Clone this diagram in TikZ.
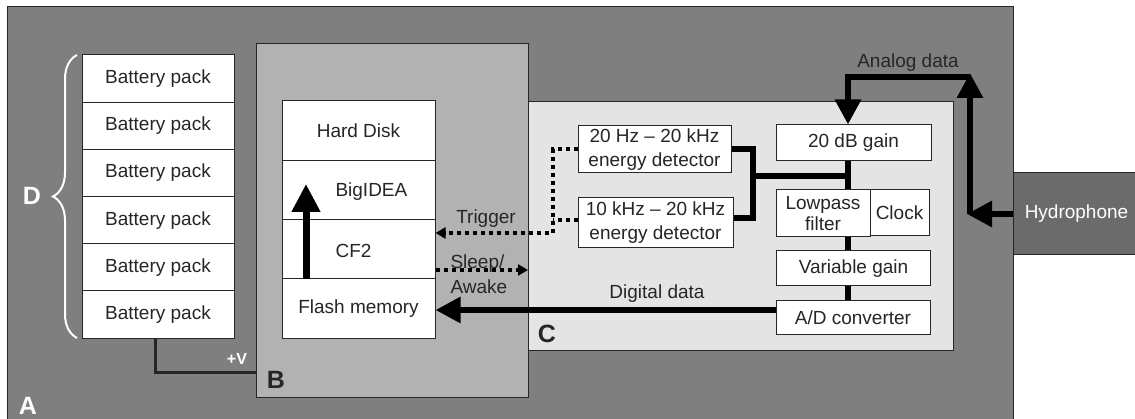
\documentclass[tikz,border=0pt]{standalone}
\usepackage{fontspec}
\setmainfont{Liberation Sans}
\usetikzlibrary{arrows.meta,decorations.pathreplacing}

\definecolor{shellA}{HTML}{7F7F7F}
\definecolor{shellB}{HTML}{B2B2B2}
\definecolor{shellC}{HTML}{E4E4E4}
\definecolor{phonegray}{HTML}{6B6B6B}
\definecolor{ink}{HTML}{262626}

\tikzset{
  unit/.style={draw=ink, fill=white, line width=1pt, inner sep=0pt, text=ink,
    font=\fontsize{19}{24}\selectfont, align=center},
  shell/.style={draw=ink, line width=1pt, inner sep=0pt, anchor=north west},
  tag/.style={font=\fontsize{25}{25}\selectfont\bfseries},
  note/.style={text=ink, font=\fontsize{19}{25}\selectfont, align=center},
  flow/.style={line width=6pt, draw=black},
  bigtip/.style={-{Triangle[length=25pt,width=25pt]}},
  ctrl/.style={line width=4pt, dash pattern=on 4pt off 4pt,
    -{Triangle[length=10pt,width=11pt]}},
}

\begin{document}
\begin{tikzpicture}[x=1pt,y=-1pt]
  \useasboundingbox (0,0) rectangle (1135,419);
  \fill[white] (0,0) rectangle (1135,419);

  % housings
  \node[shell, fill=shellA, minimum width=1006pt, minimum height=418pt] (boxA) at (7,6) {};
  \node[shell, fill=shellB, minimum width=272pt, minimum height=354pt] (boxB) at (256,43) {};
  \node[shell, fill=shellC, minimum width=425pt, minimum height=249pt] (boxC) at (528,101) {};
  \node[shell, anchor=west, fill=phonegray, minimum width=126pt, minimum height=82pt,
    text=white, font=\fontsize{19}{24}\selectfont] (phone) at (1013,214) {Hydrophone};

  \node[tag, text=white] (tagA) at (28,406) {A};
  \node[tag, text=ink] (tagB) at (276,380) {B};
  \node[tag, text=ink] (tagC) at (547,334) {C};
  \node[tag, text=white] (tagD) at (32,196) {D};

  % batteries
  \foreach \i in {1,...,6}
    \node[unit, minimum width=152pt, minimum height=47.2pt] (bat\i) at (158,31.4+47.2*\i) {Battery pack};
  \draw[white, line width=2pt, decorate, decoration={brace, amplitude=24pt}] (77,338) -- (77,55);

  \draw[line width=3pt, draw=black!85] ([xshift=-3pt]bat6.south) |- (boxB.west |- 0,373);
  \node[text=white, font=\fontsize{16}{16}\selectfont\bfseries] (plusv) at (237,359) {+V};

  % logger stack
  \node[unit, minimum width=153pt, minimum height=59.25pt] (disk) at (358.5,130.6) {Hard Disk};
  \node[unit, minimum width=153pt, minimum height=59.25pt] (idea) at (358.5,189.9) {};
  \node[unit, minimum width=153pt, minimum height=59.25pt] (cf) at (358.5,249.1) {};
  \node[unit, minimum width=153pt, minimum height=59.25pt] (flash) at (358.5,308.4) {Flash memory};
  \node[note, anchor=west] (ideatext) at (332,191.5) {BigIDEA};
  \node[note, anchor=west] (cftext) at (332,251) {CF2};
  \draw[flow, line width=7pt, -{Triangle[length=28pt,width=27pt]}]
    ([xshift=-52.5pt]cf.south) -- ([xshift=-52.5pt, yshift=6pt]idea.center);

  % detectors
  \node[unit, minimum width=153pt, minimum height=47pt] (wide) at (654.5,149.5) {20 Hz – 20 kHz\\energy detector};
  \node[unit, minimum width=155pt, minimum height=50pt] (high) at (655.5,223) {10 kHz – 20 kHz\\energy detector};

  % signal chain
  \node[unit, minimum width=155pt, minimum height=36pt] (gain) at (853.5,143) {20 dB gain};
  \node[unit, minimum width=94pt, minimum height=47pt, font=\fontsize{19}{21}\selectfont] (lowpass) at (823,213.5) {Lowpass\\filter};
  \node[unit, minimum width=59pt, minimum height=46pt] (clock) at (899.5,213) {Clock};
  \node[unit, minimum width=154pt, minimum height=35pt] (vargain) at (853.5,268.5) {Variable gain};
  \node[unit, minimum width=154pt, minimum height=34pt] (adc) at (853,318) {A/D converter};

  \coordinate (spine) at (848,176);
  \coordinate (merge) at (753,176);
  \coordinate (riser) at (970,214);
  \coordinate (crest) at (970,77);
  \coordinate (trig) at (553,233);

  \draw[flow] (wide.east) -| (merge) |- ([yshift=5pt]high.east);
  \draw[flow] (merge) -- (spine);
  \draw[flow] (gain.south -| spine) -- (lowpass.north -| spine);
  \draw[flow] (lowpass.south -| spine) -- (vargain.north -| spine);
  \draw[flow] (vargain.south -| spine) -- (adc.north -| spine);

  % analog in
  \draw[flow, bigtip] (phone.west) -- ([xshift=-3pt]riser);
  \draw[flow, bigtip] (riser) -- ([yshift=4pt]crest);
  \draw[flow, bigtip] (crest) -| (gain.north -| spine);
  \node[note] (analog) at (908,63) {Analog data};

  % digital out
  \draw[flow, bigtip] (adc.west |- 0,310) -- (flash.east |- 0,310);
  \node[note] (digital) at (657,294) {Digital data};

  % trigger and sleep
  \draw[ctrl] (wide.west) -| (trig) -- (trig -| cf.east);
  \draw[line width=4pt, dash pattern=on 4pt off 4pt] ([yshift=3pt]high.west) -- ([yshift=3pt]high.west -| trig);
  \node[note] (trigger) at (486,219) {Trigger};
  \draw[ctrl] (cf.east |- 0,270) -- (boxC.west |- 0,270);
  \node[note, align=left, anchor=west] (sleep) at (447,274) {Sleep/\\Awake};
\end{tikzpicture}
\end{document}
